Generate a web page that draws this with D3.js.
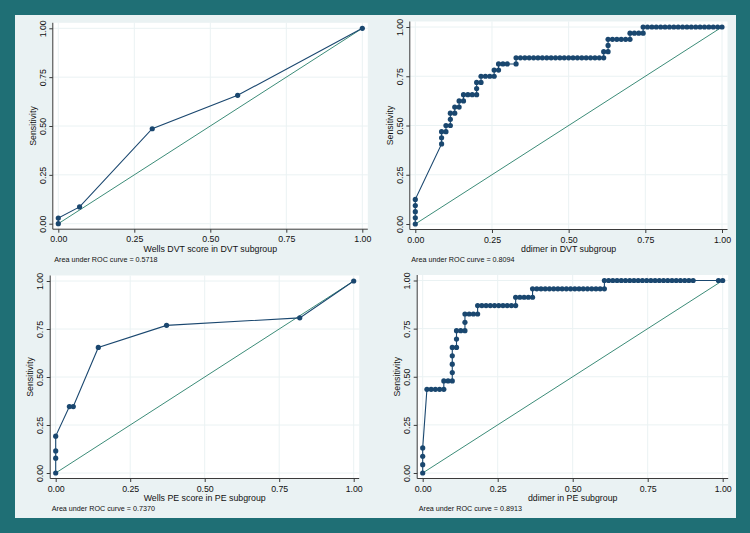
<!DOCTYPE html>
<html>
<head>
<meta charset="utf-8">
<script src="https://cdn.jsdelivr.net/npm/d3@7"></script>
<style>
  html, body { margin: 0; padding: 0; background: #1f6f75; }
  svg { display: block; font-family: "Liberation Sans", Arial, Helvetica, sans-serif; }
</style>
</head>
<body>
<svg id="chart" width="750" height="533"></svg>
<script>
// ---- data ----
const tickValues = [0, 0.25, 0.5, 0.75, 1];
const yTitle = "Sensitivity";
const xTitles = [
  "Wells DVT score in DVT subgroup",
  "ddimer in DVT subgroup",
  "Wells PE score in PE subgroup",
  "ddimer in PE subgroup"
];
const aucValues = ["0.5718", "0.8094", "0.7370", "0.8913"];

// Wells scores: few cut points, read as rates (1 - specificity, sensitivity)
const wellsDvtFpr = [0, 0, 0.070, 0.309, 0.590, 1];
const wellsDvtTpr = [0, 0.029, 0.086, 0.486, 0.657, 1];
const wellsPeFpr = [0, 0, 0, 0, 0.046, 0.059, 0.143, 0.372, 0.819, 1];
const wellsPeTpr = [0, 0.077, 0.115, 0.192, 0.346, 0.346, 0.654, 0.769, 0.808, 1];

// ddimer: [false positives, true positives] per cut point
const dvtControls = 70, dvtCases = 32;
const ddimerDvtCounts = [
  [0,0],[0,1],[0,2],[0,3],[0,4],
  [6,13],[6,14],[6,15],[7,15],[7,16],[8,16],[8,17],[8,18],[9,18],[9,19],
  [10,19],[10,20],[11,20],[11,21],[12,21],[13,21],[14,21],[14,22],[14,23],
  [15,23],[15,24],[16,24],[17,24],[18,24],[18,25],[19,25],[19,26],[20,26],[21,26],
  [23,26],[23,27],[24,27],[25,27],[26,27],[27,27],[28,27],[29,27],[30,27],[31,27],
  [32,27],[33,27],[34,27],[35,27],[36,27],[37,27],[38,27],[39,27],[40,27],[41,27],
  [42,27],[43,27],[43,28],[44,28],[44,29],[44,30],[45,30],[46,30],[47,30],[48,30],
  [49,30],[49,31],[50,31],[51,31],[52,31],[52,32],[53,32],[54,32],[55,32],[56,32],
  [57,32],[58,32],[59,32],[60,32],[61,32],[62,32],[63,32],[64,32],[65,32],[66,32],
  [67,32],[68,32],[69,32],[70,32]
];
const peControls = 71, peCases = 23;
const ddimerPeCounts = [
  [0,0],[0,1],[0,2],[0,3],
  [1,10],[2,10],[3,10],[4,10],[5,10],[5,11],[6,11],[7,11],
  [7,12],[7,13],[7,14],[7,15],[8,15],[8,16],[8,17],[9,17],[10,17],[10,18],[10,19],
  [11,19],[12,19],[13,19],[13,20],[14,20],[15,20],[16,20],[17,20],[18,20],[19,20],
  [20,20],[21,20],[22,20],[22,21],[23,21],[24,21],[25,21],[26,21],[26,22],[27,22],
  [28,22],[29,22],[30,22],[31,22],[32,22],[33,22],[34,22],[35,22],[36,22],[37,22],
  [38,22],[39,22],[40,22],[41,22],[42,22],[43,22],[43,23],[44,23],[45,23],[46,23],
  [47,23],[48,23],[49,23],[50,23],[51,23],[52,23],[53,23],[54,23],[55,23],[56,23],
  [57,23],[58,23],[59,23],[60,23],[61,23],[62,23],[63,23],[64,23],[70,23],[71,23]
];

// ---- build point lists ----
const zipRates = (fx, ty) => fx.map((v, i) => ({ fpr: v, tpr: ty[i] }));
const fromCounts = (counts, nNeg, nPos) => counts.map(([fp, tp]) => ({ fpr: fp / nNeg, tpr: tp / nPos }));

const series = [
  zipRates(wellsDvtFpr, wellsDvtTpr),
  fromCounts(ddimerDvtCounts, dvtControls, dvtCases),
  zipRates(wellsPeFpr, wellsPeTpr),
  fromCounts(ddimerPeCounts, peControls, peCases)
];

// pixel frame of each panel's data range (x for 0..1, y for 0..1)
const layout = [
  { x0: 58.3,  x1: 362.3, yb: 223.7, yt: 28.3 },
  { x0: 415.3, x1: 722,   yb: 224,   yt: 27 },
  { x0: 55.7,  x1: 353.7, yb: 473,   yt: 281 },
  { x0: 422.7, x1: 722.7, yb: 473,   yt: 280.5 }
];

const NAVY = "#1a476f";
const REF = "#3c8c78";
const GRID = "#eaf2f3";
const AXIS = "#3a3a3a";
const FS = 8.8;

const svg = d3.select("#chart");

// outer light graph region
svg.append("rect")
  .attr("x", 15).attr("y", 15).attr("width", 721).attr("height", 503)
  .attr("fill", "#eaf2f3");

function drawPanel(i) {
  const p = layout[i];
  const pts = series[i];
  const pad = 5.5;
  const left = p.x0 - pad, right = p.x1 + pad, top = p.yt - pad, bottom = p.yb + pad;

  const x = d3.scaleLinear().domain([0, 1]).range([p.x0, p.x1]);
  const y = d3.scaleLinear().domain([0, 1]).range([p.yb, p.yt]);

  const g = svg.append("g");

  // plot region
  g.append("rect")
    .attr("x", left).attr("y", top)
    .attr("width", right - left).attr("height", bottom - top)
    .attr("fill", "#fff");

  // grid
  g.append("g").selectAll("line.v").data(tickValues).join("line")
    .attr("x1", d => x(d)).attr("x2", d => x(d))
    .attr("y1", top).attr("y2", bottom)
    .attr("stroke", GRID).attr("stroke-width", 1);
  g.append("g").selectAll("line.h").data(tickValues).join("line")
    .attr("y1", d => y(d)).attr("y2", d => y(d))
    .attr("x1", left).attr("x2", right)
    .attr("stroke", GRID).attr("stroke-width", 1);

  // reference diagonal
  g.append("line")
    .attr("x1", x(0)).attr("y1", y(0))
    .attr("x2", x(1)).attr("y2", y(1))
    .attr("stroke", REF).attr("stroke-width", 1);

  // ROC curve
  const line = d3.line().x(d => x(d.fpr)).y(d => y(d.tpr));
  g.append("path")
    .datum(pts)
    .attr("d", line)
    .attr("fill", "none")
    .attr("stroke", NAVY)
    .attr("stroke-width", 1.1);
  g.append("g").selectAll("circle").data(pts).join("circle")
    .attr("cx", d => x(d.fpr)).attr("cy", d => y(d.tpr))
    .attr("r", 2.6)
    .attr("fill", NAVY);

  // x axis
  const xa = g.append("g")
    .attr("transform", `translate(0,${bottom})`)
    .call(d3.axisBottom(x).tickValues(tickValues).tickFormat(d3.format(".2f"))
      .tickSize(3.5).tickPadding(3.3));
  xa.select(".domain").remove();
  xa.attr("font-size", FS).attr("font-family", null).attr("color", AXIS);
  xa.selectAll(".tick text").attr("fill", "#111");
  g.append("line")
    .attr("x1", left).attr("x2", right).attr("y1", bottom).attr("y2", bottom)
    .attr("stroke", AXIS).attr("stroke-width", 1);

  // y axis
  const ya = g.append("g")
    .attr("transform", `translate(${left},0)`)
    .call(d3.axisLeft(y).tickValues(tickValues).tickFormat(d3.format(".2f"))
      .tickSize(3.5));
  ya.select(".domain").remove();
  ya.attr("font-size", FS).attr("font-family", null).attr("color", AXIS);
  ya.selectAll(".tick text")
    .attr("transform", "rotate(-90)")
    .attr("x", 0).attr("y", -7.3).attr("dy", 0)
    .attr("text-anchor", "middle")
    .attr("fill", "#111");
  g.append("line")
    .attr("x1", left).attr("x2", left).attr("y1", top).attr("y2", bottom)
    .attr("stroke", AXIS).attr("stroke-width", 1);

  // titles
  g.append("text")
    .attr("transform", `translate(${left - 17},${(top + bottom) / 2}) rotate(-90)`)
    .attr("text-anchor", "middle")
    .attr("font-size", FS).attr("fill", "#111")
    .text(yTitle);
  g.append("text")
    .attr("x", (left + right) / 2).attr("y", bottom + 22.8)
    .attr("text-anchor", "middle")
    .attr("font-size", FS).attr("fill", "#111")
    .text(xTitles[i]);
  g.append("text")
    .attr("x", left + 1.5).attr("y", bottom + 32.5)
    .attr("font-size", 7.2).attr("fill", "#111")
    .text("Area under ROC curve = " + aucValues[i]);
}

for (let i = 0; i < 4; i++) drawPanel(i);
</script>
</body>
</html>
